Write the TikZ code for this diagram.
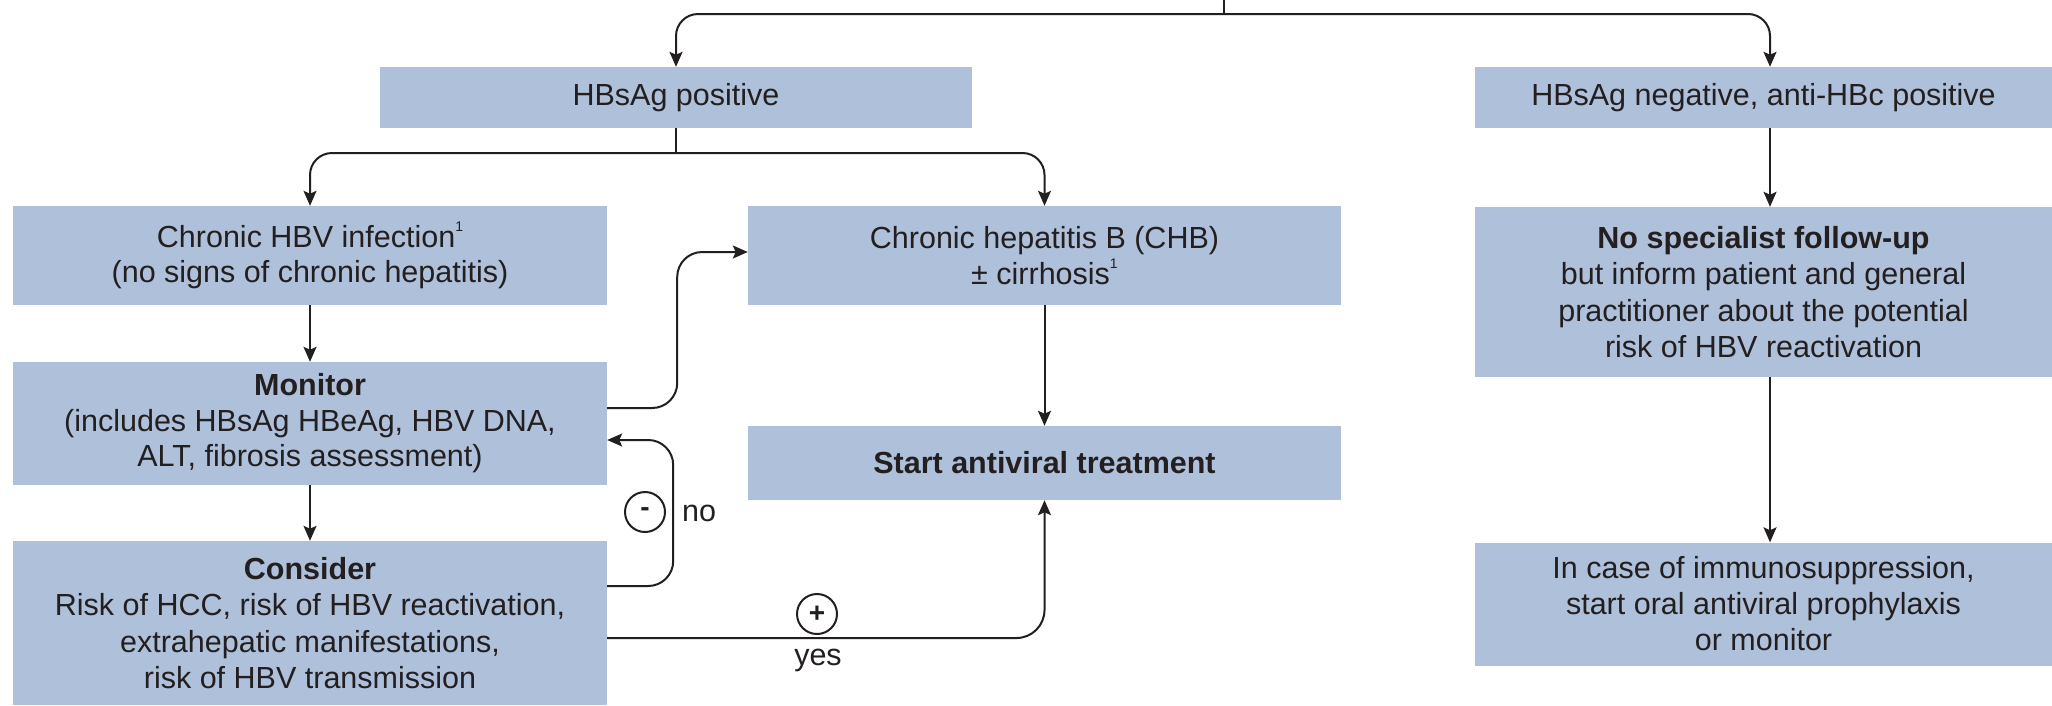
\documentclass[tikz,border=0pt]{standalone}
\usepackage{fontspec}
\setmainfont{Liberation Sans}
\usetikzlibrary{arrows.meta,calc}
\definecolor{boxblue}{RGB}{174,192,218}
\definecolor{ink}{RGB}{35,31,32}
\newcommand\supone{\raisebox{0.5em}{\fontsize{14}{14}\selectfont 1}}
\begin{document}
\begin{tikzpicture}[x=1pt,y=-1pt,
  font=\fontsize{30.5}{35.5}\selectfont, text=ink,
  box/.style={fill=boxblue, draw=none, inner sep=0pt, align=center},
  arr/.style={draw=ink, line width=2pt, -{Stealth[length=15pt,width=13pt,inset=3pt]}},
  ln/.style={draw=ink, line width=2pt},
  sign/.style={circle, draw=ink, line width=2pt, minimum size=40pt, inner sep=0pt, font=\fontsize{28}{28}\selectfont\bfseries}
]
\useasboundingbox (0,0) rectangle (2052,705);
\fill[white] (0,0) rectangle (2052,705);

\node[box, minimum width=592, minimum height=61] (pos) at (676,97.5) {HBsAg positive};
\node[box, minimum width=577, minimum height=61] (neg) at (1763.5,97.5) {HBsAg negative, anti-HBc positive};
\node[box, minimum width=594, minimum height=99] (chi) at (310,255.5) {Chronic HBV infection\supone\\(no signs of chronic hepatitis)};
\node[box, minimum width=593, minimum height=99] (chb) at (1044.5,255.5) {Chronic hepatitis B (CHB)\\± cirrhosis\supone};
\node[box, minimum width=577, minimum height=170, font=\fontsize{30.5}{36.5}\selectfont] (nsf) at (1763.5,292) {\textbf{No specialist follow-up}\\but inform patient and general\\practitioner about the potential\\risk of HBV reactivation};
\node[box, minimum width=594, minimum height=123] (mon) at (310,423.5) {\textbf{Monitor}\\(includes HBsAg HBeAg, HBV DNA,\\ALT, fibrosis assessment)};
\node[box, minimum width=593, minimum height=74] (sat) at (1044.5,463) {\textbf{Start antiviral treatment}};
\node[box, minimum width=594, minimum height=164, font=\fontsize{30.5}{36.5}\selectfont] (con) at (310,623) {\textbf{Consider}\\Risk of HCC, risk of HBV reactivation,\\extrahepatic manifestations,\\risk of HBV transmission};
\node[box, minimum width=577, minimum height=123, font=\fontsize{30.5}{36}\selectfont] (ics) at (1763.5,604) {In case of immunosuppression,\\start oral antiviral prophylaxis\\or monitor};

\coordinate (top) at (1224,0);
\coordinate (j1) at (1224,14);
\draw[ln] (top) -- (j1);
\draw[arr, rounded corners=22] (j1) -| (pos.north);
\draw[arr, rounded corners=22] (j1) -| ([xshift=6.5pt]neg.north);
\coordinate (j2) at (676,153);
\draw[ln] (pos.south) -- (j2);
\draw[arr, rounded corners=22] (j2) -| (chi.north);
\draw[arr, rounded corners=22] (j2) -| (chb.north);
\draw[arr] ([xshift=6.5pt]neg.south) -- ([xshift=6.5pt]nsf.north);
\draw[arr] (chi.south) -- (mon.north);
\draw[arr] (mon.south) -- (con.north);
\draw[arr] (chb.south) -- (sat.north);
\draw[arr] ([xshift=6.5pt]nsf.south) -- ([xshift=6.5pt]ics.north);
\draw[arr, rounded corners=25] ([yshift=15.5pt]mon.east) -- ++(70,0) |- ([yshift=3.5pt]chb.west);
\draw[arr, rounded corners=25] ([yshift=37pt]con.east) -- ++(66,0) |- ([yshift=-16.5pt]mon.east);
\draw[arr, rounded corners=28] ([yshift=-15pt]con.east) -| (sat.south);

\node[sign] (minus) at (645,512) {-};
\node (no) at (699,513) {no};
\node[sign] (plus) at (817,614) {+};
\node (yes) at (818,660) {yes};
\end{tikzpicture}
\end{document}
